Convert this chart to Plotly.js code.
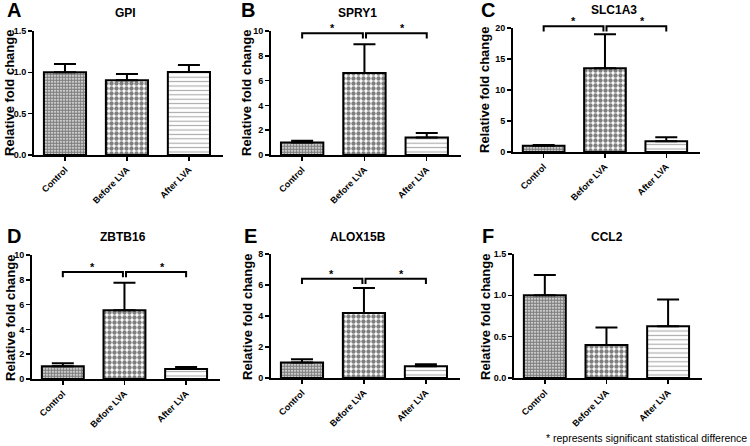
<!DOCTYPE html>
<html><head><meta charset="utf-8">
<script src="https://cdn.plot.ly/plotly-3.0.1.min.js"></script>
<style>html,body{margin:0;padding:0;background:#fff}#chart{width:750px;height:446px}</style>
</head><body><div id="chart"></div>
<script>
// ---------- data ----------
const categories = ['Control', 'Before LVA', 'After LVA'];
const genes = ['GPI', 'SPRY1', 'SLC1A3', 'ZBTB16', 'ALOX15B', 'CCL2'];
const panelLetters = ['A', 'B', 'C', 'D', 'E', 'F'];

const gpiMean = [1.00, 0.905, 1.005];
const gpiErr = [0.10, 0.075, 0.085];
const spry1Mean = [1.01, 6.61, 1.41];
const spry1Err = [0.14, 2.32, 0.37];
const slc1a3Mean = [1.00, 13.5, 1.72];
const slc1a3Err = [0.13, 5.5, 0.64];
const zbtb16Mean = [1.02, 5.55, 0.80];
const zbtb16Err = [0.25, 2.22, 0.17];
const alox15bMean = [1.00, 4.20, 0.76];
const alox15bErr = [0.21, 1.60, 0.13];
const ccl2Mean = [1.00, 0.40, 0.625];
const ccl2Err = [0.245, 0.21, 0.325];

const yTop = [1.5, 10, 20, 10, 8, 1.5];
const yStep = [0.5, 2, 5, 2, 2, 0.5];
const yFormat = ['.1f', 'd', 'd', 'd', 'd', '.1f'];

// significance brackets: [bracket line, bracket feet, asterisk]
const sigSPRY1 = [9.82, 9.40, 10.45];
const sigSLC1A3 = [20.3, 19.45, 21.6];
const sigZBTB16 = [8.62, 8.20, 9.25];
const sigALOX15B = [6.40, 6.06, 6.90];
const starX = [0.48, 1.61];

const footnote = '* represents significant statistical difference';

// ---------- layout geometry (pixels) ----------
const W = 750, H = 446;
const FONT = 'Arial, "Liberation Sans", sans-serif';
const panels = [
  {x0: 34, x1: 223, zero: 155, top: 31, title: [125, 13], letter: [14, 10], ylab: [9, 93]},
  {x0: 271, x1: 461, zero: 155, top: 31, title: [357, 13], letter: [248, 10], ylab: [246, 93]},
  {x0: 513, x1: 700, zero: 152, top: 28, title: [614, 9.5], letter: [488, 10], ylab: [484, 90]},
  {x0: 32, x1: 220, zero: 379, top: 255, title: [123, 237], letter: [14, 236], ylab: [10, 318]},
  {x0: 271, x1: 460, zero: 378, top: 254, title: [358, 237], letter: [250, 236], ylab: [247, 317]},
  {x0: 514, x1: 702, zero: 378, top: 254, title: [607, 237], letter: [488, 236], ylab: [485, 317]}
];
const means = [gpiMean, spry1Mean, slc1a3Mean, zbtb16Mean, alox15bMean, ccl2Mean];
const errs = [gpiErr, spry1Err, slc1a3Err, zbtb16Err, alox15bErr, ccl2Err];
const sigs = [null, sigSPRY1, sigSLC1A3, sigZBTB16, sigALOX15B, null];
const xPos = [0, 1, 2];

const pattern = {
  shape: ['.', '.', '-'],
  size: [3, 5, 4.4],
  solidity: [0.75, 0.6, 0.26],
  fgcolor: ['#000', '#000', '#555'],
  bgcolor: ['#fff', '#fff', '#fff'],
  fillmode: 'overlay'
};

const traces = [];
const layout = {
  width: W, height: H, margin: {l: 0, r: 0, t: 0, b: 0},
  paper_bgcolor: '#fff', plot_bgcolor: 'rgba(0,0,0,0)', showlegend: false,
  font: {family: FONT, color: '#000'},
  annotations: [], shapes: []
};
let extra = 7;
panels.forEach((p, i) => {
  const n = i + 1, sx = n === 1 ? '' : String(n);
  const yd = [1 - p.zero / H, 1 - p.top / H];
  layout['xaxis' + sx] = {
    domain: [p.x0 / W, p.x1 / W], range: [-0.5, 2.55], anchor: 'y' + sx,
    showline: true, linewidth: 2, linecolor: '#000', ticks: 'outside', ticklen: 4, tickwidth: 1.5,
    tickcolor: '#000', tickmode: 'array', tickvals: xPos, ticktext: categories, tickangle: -45,
    tickfont: {size: 9, family: FONT, weight: 700, color: '#000'},
    showgrid: false, zeroline: false, fixedrange: true
  };
  layout['yaxis' + sx] = {
    domain: yd, range: [0, yTop[i]], anchor: 'x' + sx,
    showline: true, linewidth: 2, linecolor: '#000', ticks: 'outside', ticklen: 4, tickwidth: 1.5,
    tickcolor: '#000', dtick: yStep[i], tick0: 0, tickformat: yFormat[i],
    tickfont: {size: 9, family: FONT, weight: 700, color: '#000'},
    showgrid: false, zeroline: false, fixedrange: true
  };
  traces.push({
    type: 'bar', x: xPos, y: means[i], xaxis: 'x' + sx, yaxis: 'y' + sx, width: 0.68,
    marker: {color: '#fff', line: {color: '#000', width: 2}, pattern: pattern},
    error_y: {type: 'data', symmetric: false, array: errs[i], arrayminus: [0, 0, 0],
      color: '#000', thickness: 2, width: 11},
    hoverinfo: 'skip'
  });
  layout.annotations.push({xref: 'paper', yref: 'paper', x: p.title[0] / W, y: 1 - p.title[1] / H,
    text: genes[i], showarrow: false, xanchor: 'center', yanchor: 'middle',
    font: {size: 12, weight: 700, family: FONT, color: '#000'}});
  layout.annotations.push({xref: 'paper', yref: 'paper', x: p.letter[0] / W, y: 1 - p.letter[1] / H,
    text: panelLetters[i], showarrow: false, xanchor: 'center', yanchor: 'middle',
    font: {size: 20, weight: 700, family: FONT, color: '#000'}});
  layout.annotations.push({xref: 'paper', yref: 'paper', x: p.ylab[0] / W, y: 1 - p.ylab[1] / H,
    text: 'Relative fold change', showarrow: false, textangle: -90, xanchor: 'center', yanchor: 'middle',
    font: {size: 13, weight: 700, family: FONT, color: '#000'}});
  const s = sigs[i];
  if (s) {
    const k = extra++;
    const ovTop = yTop[i] * 1.2;
    const topPx = p.zero - (p.zero - p.top) * 1.2;
    layout['yaxis' + k] = {domain: [1 - p.zero / H, 1 - topPx / H], range: [0, ovTop],
      anchor: 'x' + sx, visible: false, fixedrange: true};
    const d = 0.025;
    traces.push({type: 'scatter', mode: 'lines', xaxis: 'x' + sx, yaxis: 'y' + k,
      x: [xPos[0], xPos[0], xPos[1] - d, xPos[1] - d], y: [s[1], s[0], s[0], s[1]],
      line: {color: '#000', width: 2}, hoverinfo: 'skip'});
    traces.push({type: 'scatter', mode: 'lines', xaxis: 'x' + sx, yaxis: 'y' + k,
      x: [xPos[1] + d, xPos[1] + d, xPos[2], xPos[2]], y: [s[1], s[0], s[0], s[1]],
      line: {color: '#000', width: 2}, hoverinfo: 'skip'});
    starX.forEach(xm => layout.annotations.push({xref: 'x' + sx, yref: 'y' + k, x: xm, y: s[2],
      text: '*', showarrow: false, xanchor: 'center', yanchor: 'middle', yshift: -3,
      font: {size: 11, weight: 700, family: FONT, color: '#000'}}));
  }
});
layout.annotations.push({xref: 'paper', yref: 'paper', x: 749 / W, y: 1 - 438 / H, text: footnote,
  showarrow: false, xanchor: 'right', yanchor: 'middle', font: {size: 10.5, family: FONT, color: '#000'}});

Plotly.newPlot('chart', traces, layout, {staticPlot: true, displayModeBar: false});
</script></body></html>
